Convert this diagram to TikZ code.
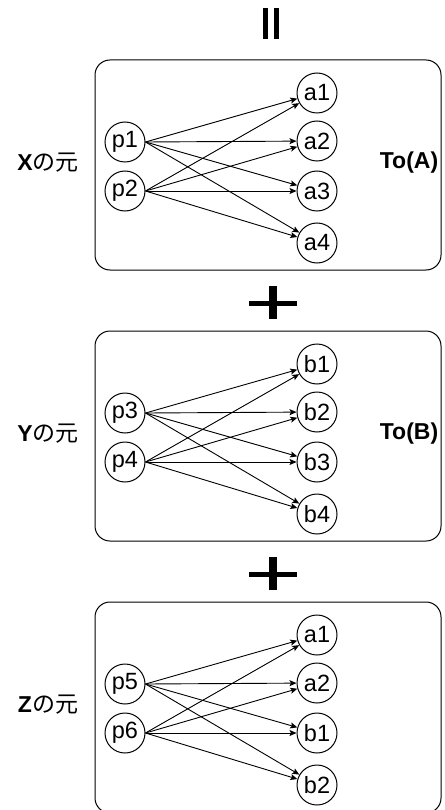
\documentclass[tikz,border=0pt]{standalone}
\usepackage{fontspec}
\setmainfont{Liberation Sans}
\newfontfamily\jpfont{Noto Sans CJK JP}
\usetikzlibrary{arrows.meta}
\begin{document}
\begin{tikzpicture}[x=1pt,y=-1pt,
  panel/.style={draw=black, line width=1pt, rounded corners=15pt},
  elem/.style={draw=black, circle, line width=1pt, minimum size=40pt, inner sep=0pt,
               font=\fontsize{23.5}{23.5}\selectfont},
  setlabel/.style={font=\fontsize{23}{23}\selectfont},
  edge/.style={draw=black, line width=0.9pt, -{Stealth[length=7pt,width=6pt,inset=1.5pt]}},
  glyph/.style={fill=black}]
\useasboundingbox (0,0) rectangle (444,810);

% equality sign standing upright
\fill[glyph] (263,8) rectangle (268,39);
\fill[glyph] (274,8) rectangle (279,39);

% plus signs between the panels
\fill[glyph] (249,301) rectangle (297,306);
\fill[glyph] (269,286) rectangle (277,319);
\fill[glyph] (249,572) rectangle (297,577);
\fill[glyph] (269,557) rectangle (277,590);

% ---------- panel X -> To(A)
\draw[panel] (95,60) rectangle (441,270);
\node[setlabel] (lx) at (48,163) {\textbf{X}{\jpfont の元}};
\node[setlabel] (ta) at (409,163) {\textbf{To(A)}};
\node[elem] (p1) at (125,142) {p1};
\node[elem] (p2) at (125,191) {p2};
\node[elem] (xa1) at (317,93) {a1};
\node[elem] (xa2) at (317,141) {a2};
\node[elem] (xa3) at (317,191) {a3};
\node[elem] (xa4) at (317,243) {a4};
\foreach \t in {xa1,xa2,xa3,xa4}{
  \draw[edge] (p1.east) -- (\t);
  \draw[edge] (p2.east) -- (\t);
}

% ---------- panel Y -> To(B)
\draw[panel] (95,331) rectangle (441,541);
\node[setlabel] (ly) at (48,434) {\textbf{Y}{\jpfont の元}};
\node[setlabel] (tb) at (409,434) {\textbf{To(B)}};
\node[elem] (p3) at (125,413) {p3};
\node[elem] (p4) at (125,462) {p4};
\node[elem] (yb1) at (317,364) {b1};
\node[elem] (yb2) at (317,412) {b2};
\node[elem] (yb3) at (317,462) {b3};
\node[elem] (yb4) at (317,514) {b4};
\foreach \t in {yb1,yb2,yb3,yb4}{
  \draw[edge] (p3.east) -- (\t);
  \draw[edge] (p4.east) -- (\t);
}

% ---------- panel Z -> To(A) + To(B)
\draw[panel] (95,602) rectangle (441,813);
\node[setlabel] (lz) at (48,705) {\textbf{Z}{\jpfont の元}};
\node[elem] (p5) at (125,684) {p5};
\node[elem] (p6) at (125,733) {p6};
\node[elem] (za1) at (317,635) {a1};
\node[elem] (za2) at (317,683) {a2};
\node[elem] (zb1) at (317,733) {b1};
\node[elem] (zb2) at (317,785) {b2};
\foreach \t in {za1,za2,zb1,zb2}{
  \draw[edge] (p5.east) -- (\t);
  \draw[edge] (p6.east) -- (\t);
}
\end{tikzpicture}
\end{document}
